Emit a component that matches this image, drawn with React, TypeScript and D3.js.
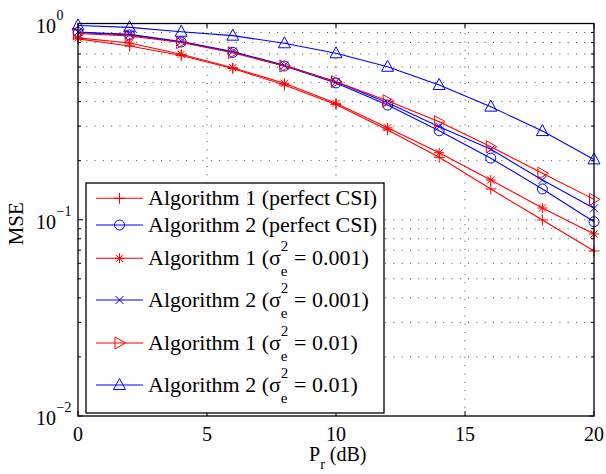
import React from 'react';
import * as d3 from 'd3';

const xValues = [0, 2, 4, 6, 8, 10, 12, 14, 16, 18, 20];
const alg1Perfect = [0.835, 0.768, 0.687, 0.59, 0.486, 0.387, 0.287, 0.208, 0.1435, 0.0997, 0.0693];
const alg2Perfect = [0.9, 0.874, 0.805, 0.713, 0.607, 0.498, 0.384, 0.284, 0.206, 0.1435, 0.0977];
const alg1E001 = [0.845, 0.795, 0.697, 0.595, 0.496, 0.392, 0.294, 0.2197, 0.1594, 0.1148, 0.0846];
const alg2E001 = [0.905, 0.88, 0.81, 0.72, 0.612, 0.505, 0.395, 0.298, 0.2286, 0.1594, 0.1144];
const alg1E01 = [0.89, 0.865, 0.8, 0.71, 0.607, 0.505, 0.404, 0.316, 0.2357, 0.1725, 0.127];
const alg2E01 = [0.977, 0.956, 0.908, 0.867, 0.793, 0.705, 0.602, 0.486, 0.377, 0.283, 0.203];

const xTicks = [0, 5, 10, 15, 20];
const yTickExps = [0, -1, -2];

const seriesNames = ['Algorithm 1', 'Algorithm 2', 'Algorithm 1', 'Algorithm 2', 'Algorithm 1', 'Algorithm 2'];
const seriesNoise = ['perfect CSI', 'perfect CSI', '0.001', '0.001', '0.01', '0.01'];
const seriesMarkers = ['plus', 'circle', 'star', 'x', 'tri-right', 'tri-up'];
const seriesColors = ['#ff0000', '#0000ff', '#ff0000', '#0000ff', '#ff0000', '#0000ff'];
const seriesValues = [alg1Perfect, alg2Perfect, alg1E001, alg2E001, alg1E01, alg2E01];

const FONT = '"Liberation Serif", "Times New Roman", serif';

function Marker({ kind, cx, cy, color }: { kind: string; cx: number; cy: number; color: string }) {
  const p = { stroke: color, strokeWidth: 1, fill: 'none' };
  switch (kind) {
    case 'plus':
      return <path {...p} d={`M${cx - 5.5},${cy}H${cx + 5.5}M${cx},${cy - 5.5}V${cy + 5.5}`} />;
    case 'circle':
      return <circle {...p} cx={cx} cy={cy} r={5} />;
    case 'star': {
      const s = 5, d = 3.6;
      return (
        <path {...p} d={`M${cx - s},${cy}H${cx + s}M${cx},${cy - s}V${cy + s}M${cx - d},${cy - d}L${cx + d},${cy + d}M${cx - d},${cy + d}L${cx + d},${cy - d}`} />
      );
    }
    case 'x': {
      const d = 4;
      return <path {...p} d={`M${cx - d},${cy - d}L${cx + d},${cy + d}M${cx - d},${cy + d}L${cx + d},${cy - d}`} />;
    }
    case 'tri-right':
      return <path {...p} d={`M${cx - 4.5},${cy - 6}L${cx + 6},${cy}L${cx - 4.5},${cy + 6}Z`} />;
    case 'tri-up':
      return <path {...p} d={`M${cx},${cy - 6.5}L${cx + 6},${cy + 4.5}L${cx - 6},${cy + 4.5}Z`} />;
    default:
      return null;
  }
}

export default function App() {
  const W = 606, H = 474;
  const left = 78, right = 594, top = 23.5, bottom = 416;
  const x = d3.scaleLinear().domain([0, 20]).range([left, right]);
  const y = d3.scaleLog().domain([0.01, 1]).range([bottom, top]);

  const minorVals: number[] = [];
  for (const dec of [0.01, 0.1]) for (let k = 2; k <= 9; k++) minorVals.push(dec * k);

  const line = d3.line<[number, number]>().x(d => x(d[0])).y(d => y(d[1]));

  const legendRowsY = [198.3, 225, 258.3, 300, 343, 385];
  const legX0 = 96, legX1 = 143, legTextX = 148;

  return (
    <svg width={W} height={H} style={{ position: 'absolute', left: 0, top: 0, background: '#fff' }} fontFamily={FONT}>
      <rect x={0} y={0} width={W} height={H} fill="#fff" />
      {/* grid */}
      <g stroke="#444" strokeWidth={1} strokeDasharray="1,7.3" fill="none">
        {xTicks.slice(1, -1).map(t => (
          <line key={'gx' + t} x1={x(t)} x2={x(t)} y1={bottom} y2={top} />
        ))}
        {[...minorVals, 0.1].map(v => (
          <line key={'gy' + v} x1={left} x2={right} y1={y(v)} y2={y(v)} />
        ))}
      </g>
      {/* ticks */}
      <g stroke="#000" strokeWidth={1} fill="none">
        {xTicks.map(t => (
          <g key={'tx' + t}>
            <line x1={x(t)} x2={x(t)} y1={bottom} y2={bottom - 5} />
            <line x1={x(t)} x2={x(t)} y1={top} y2={top + 5} />
          </g>
        ))}
        {yTickExps.map(e => (
          <g key={'ty' + e}>
            <line x1={left} x2={left + 5} y1={y(Math.pow(10, e))} y2={y(Math.pow(10, e))} />
            <line x1={right} x2={right - 5} y1={y(Math.pow(10, e))} y2={y(Math.pow(10, e))} />
          </g>
        ))}
        {minorVals.map(v => (
          <g key={'tm' + v}>
            <line x1={left} x2={left + 3} y1={y(v)} y2={y(v)} />
            <line x1={right} x2={right - 3} y1={y(v)} y2={y(v)} />
          </g>
        ))}
      </g>
      {/* series */}
      {seriesValues.map((vals, i) => {
        const pts = xValues.map((xv, j) => [xv, vals[j]] as [number, number]);
        return (
          <g key={'s' + i}>
            <path d={line(pts) || ''} stroke={seriesColors[i]} strokeWidth={1.1} fill="none" />
            {pts.map((p, j) => (
              <Marker key={j} kind={seriesMarkers[i]} cx={x(p[0])} cy={y(p[1])} color={seriesColors[i]} />
            ))}
          </g>
        );
      })}
      {/* axes box */}
      <rect x={left} y={top} width={right - left} height={bottom - top} fill="none" stroke="#000" strokeWidth={1.3} />
      {/* x tick labels */}
      <g fontSize={20} textAnchor="middle" fill="#000">
        {xTicks.map(t => (
          <text key={'lx' + t} x={x(t)} y={441}>{t}</text>
        ))}
      </g>
      {/* y tick labels */}
      {yTickExps.map(e => {
        const ty = y(Math.pow(10, e));
        return (
          <g key={'ly' + e} fill="#000">
            <text x={56} y={ty + 9} fontSize={20} textAnchor="end">10</text>
            <text x={56.5} y={ty - 4} fontSize={14} textAnchor="start">{e < 0 ? '\u2212' + Math.abs(e) : String(e)}</text>
          </g>
        );
      })}
      {/* axis labels */}
      <text transform={`translate(23,${(top + bottom) / 2 + 4}) rotate(-90)`} fontSize={21} textAnchor="middle" fill="#000">MSE</text>
      <text x={309} y={461} fontSize={20} fill="#000">
        P<tspan fontSize={14} dy={8}>r</tspan><tspan dy={-8}> (dB)</tspan>
      </text>
      {/* legend */}
      <rect x={86} y={183} width={298} height={230} fill="#fff" stroke="#000" strokeWidth={1.3} />
      {seriesNames.map((name, i) => {
        const ly = legendRowsY[i];
        const noise = seriesNoise[i];
        return (
          <g key={'lg' + i}>
            <line x1={legX0} x2={legX1} y1={ly} y2={ly} stroke={seriesColors[i]} strokeWidth={1.1} />
            <Marker kind={seriesMarkers[i]} cx={(legX0 + legX1) / 2} cy={ly} color={seriesColors[i]} />
            {noise === 'perfect CSI' ? (
              <text x={legTextX} y={ly + 7} fontSize={22} fill="#000">{`${name} (perfect CSI)`}</text>
            ) : (
              <text x={legTextX} y={ly + 7} fontSize={22} fill="#000">
                {`${name} (\u03c3`}
                <tspan fontSize={15} dy={-14}>2</tspan>
                <tspan fontSize={15} dx={-7.5} dy={25}>e</tspan>
                <tspan dy={-11} dx={1}>{` = ${noise})`}</tspan>
              </text>
            )}
          </g>
        );
      })}
    </svg>
  );
}
